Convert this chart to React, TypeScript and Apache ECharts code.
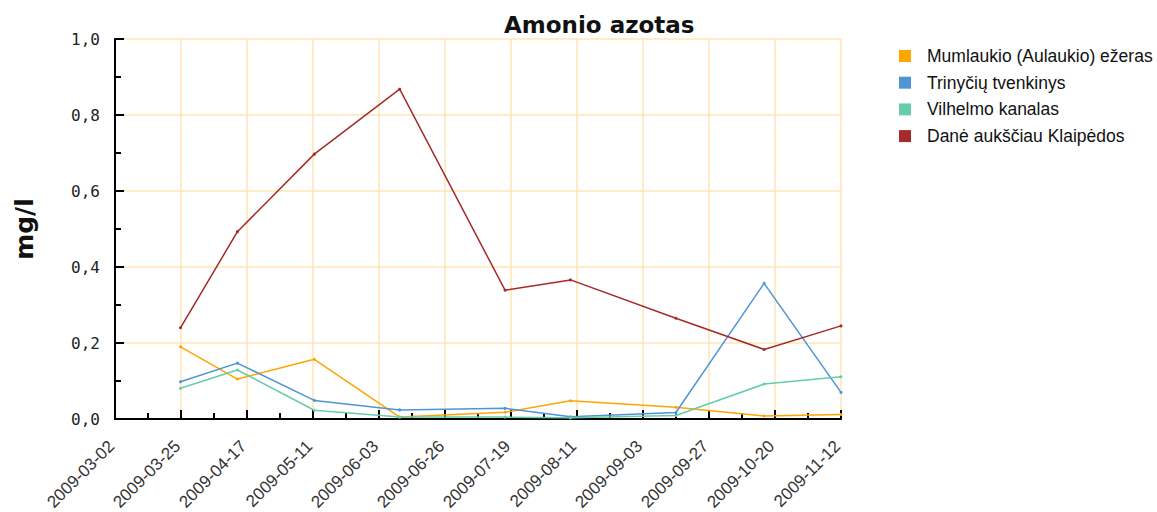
import React, { useEffect, useRef } from "react";
import * as echarts from "echarts";

const START_DATE = "2009-03-02";
const END_DATE = "2009-11-12";
const TICK_COUNT = 11;

const sampleDates = [
  "2009-03-25", "2009-04-14", "2009-05-11", "2009-06-10", "2009-07-17",
  "2009-08-09", "2009-09-15", "2009-10-16", "2009-11-12",
];

const seriesNames = [
  "Mumlaukio (Aulaukio) ežeras",
  "Trinyčių tvenkinys",
  "Vilhelmo kanalas",
  "Danė aukščiau Klaipėdos",
];

const mumlaukio = [0.19, 0.105, 0.157, 0.005, 0.018, 0.048, 0.031, 0.008, 0.012];
const trinyciu = [0.098, 0.147, 0.049, 0.024, 0.028, 0.006, 0.017, 0.357, 0.07];
const vilhelmo = [0.081, 0.129, 0.023, 0.005, 0.005, 0.003, 0.009, 0.092, 0.111];
const dane = [0.24, 0.493, 0.697, 0.868, 0.339, 0.366, 0.265, 0.183, 0.245];

const colors = ["#ffa500", "#4f94d4", "#66cdaa", "#a52a2a"];

const DAY = 86400000;
const toMs = (s: string) => {
  const [y, m, d] = s.split("-").map(Number);
  return Date.UTC(y, m - 1, d);
};
const startMs = toMs(START_DATE);
const totalDays = Math.round((toMs(END_DATE) - startMs) / DAY);
const dayOf = (s: string) => Math.round((toMs(s) - startMs) / DAY);
const fmtDay = (v: number) => {
  const d = new Date(startMs + Math.round(v) * DAY);
  const mm = String(d.getUTCMonth() + 1).padStart(2, "0");
  const dd = String(d.getUTCDate()).padStart(2, "0");
  return `${d.getUTCFullYear()}-${mm}-${dd}`;
};

export default function App() {
  const ref = useRef<HTMLDivElement>(null);
  useEffect(() => {
    if (!ref.current) return;
    const chart = echarts.init(ref.current, null, { renderer: "svg" });
    const values = [mumlaukio, trinyciu, vilhelmo, dane];
    const gridColor = "#ffe4b5";
    chart.setOption({
      animation: false,
      backgroundColor: "#ffffff",
      title: {
        text: "Amonio azotas",
        left: 499,
        top: 8,
        textStyle: {
          fontFamily: "DejaVu Sans",
          fontWeight: "bold",
          fontSize: 23,
          color: "#111",
        },
      },
      legend: {
        orient: "vertical",
        left: 899,
        top: 47,
        padding: 0,
        itemWidth: 12,
        itemHeight: 12,
        itemGap: 8.7,
        icon: "rect",
        data: seriesNames,
        textStyle: {
          fontFamily: "Liberation Sans",
          fontSize: 17.5,
          color: "#111",
          padding: [0, 0, 0, 11],
        },
      },
      grid: {
        left: 115,
        right: 316,
        top: 39,
        bottom: 93,
        containLabel: false,
        outerBoundsMode: "none",
      },
      xAxis: {
        type: "value",
        min: 0,
        max: totalDays,
        interval: totalDays / TICK_COUNT,
        axisLine: { show: true, lineStyle: { color: "#000", width: 2 } },
        axisTick: { show: true, inside: true, length: 9, lineStyle: { color: "#000", width: 2 } },
        minorTick: { show: true, splitNumber: 2, length: 6, lineStyle: { color: "#000", width: 2 } },
        splitLine: { show: true, lineStyle: { color: gridColor, width: 1.5 } },
        axisLabel: {
          rotate: 45,
          margin: 21,
          padding: [0, 5, 0, 0],
          fontFamily: "Liberation Sans",
          fontSize: 17,
          color: "#333",
          showMinLabel: true,
          showMaxLabel: true,
          hideOverlap: false,
          formatter: (v: number) => fmtDay(v),
        },
      },
      yAxis: {
        type: "value",
        min: 0,
        max: 1,
        interval: 0.2,
        name: "mg/l",
        nameLocation: "middle",
        nameGap: 78,
        nameRotate: 90,
        nameTextStyle: {
          fontFamily: "DejaVu Sans",
          fontWeight: "bold",
          fontSize: 25,
          color: "#111",
        },
        axisLine: { show: true, lineStyle: { color: "#000", width: 2 } },
        axisTick: { show: true, inside: true, length: 9, lineStyle: { color: "#000", width: 2 } },
        minorTick: { show: true, splitNumber: 2, length: 6, lineStyle: { color: "#000", width: 2 } },
        splitLine: { show: true, lineStyle: { color: gridColor, width: 1.5 } },
        axisLabel: {
          margin: 15,
          fontFamily: "DejaVu Sans Mono",
          fontSize: 16,
          color: "#222",
          formatter: (v: number) => v.toFixed(1).replace(".", ","),
        },
      },
      series: seriesNames.map((name, i) => ({
        name,
        type: "line",
        data: sampleDates.map((d, j) => [dayOf(d), values[i][j]]),
        itemStyle: { color: colors[i] },
        lineStyle: { color: colors[i], width: 1.5 },
        symbol: "circle",
        symbolSize: 3,
        showSymbol: true,
        z: 3,
      })),
    });
    return () => chart.dispose();
  }, []);
  return (
    <div
      ref={ref}
      style={{ position: "absolute", left: 0, top: 0, width: 1157, height: 512 }}
    />
  );
}
